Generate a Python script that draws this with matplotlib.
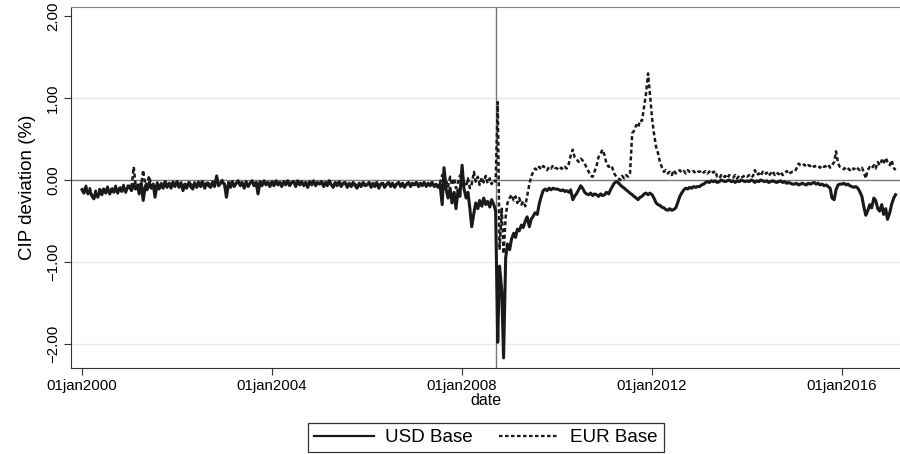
import matplotlib
matplotlib.use("Agg")
import matplotlib.pyplot as plt
import pandas as pd

plt.rcParams['font.family'] = ['Liberation Sans', 'DejaVu Sans']

# semi-monthly readings (1st and 15th of each month), CIP deviation in %
usd_2000 = [-0.12,-0.16,-0.09,-0.17,-0.13,-0.19,-0.23,-0.16,-0.21,-0.13,-0.18,-0.11,-0.16,-0.10,-0.17,-0.11,-0.15,-0.09,-0.16,-0.10,-0.14,-0.08,-0.15,-0.09]
usd_2001 = [-0.09,-0.13,-0.05,-0.11,-0.06,-0.17,-0.04,-0.25,-0.08,-0.12,-0.03,-0.10,-0.05,-0.21,-0.04,-0.11,-0.05,-0.10,-0.02,-0.09,-0.04,-0.10,-0.03,-0.08]
usd_2002 = [-0.02,-0.09,-0.04,-0.13,-0.05,-0.10,-0.03,-0.08,-0.11,-0.04,-0.09,-0.03,-0.08,-0.02,-0.10,-0.04,-0.07,-0.09,-0.03,-0.08,0.05,-0.07,-0.04,-0.02]
usd_2003 = [-0.06,-0.21,-0.03,-0.09,-0.02,-0.08,-0.04,-0.01,-0.07,-0.03,-0.10,-0.02,-0.08,-0.04,-0.01,-0.07,-0.03,-0.17,-0.02,-0.07,-0.01,-0.06,-0.03,-0.08]
usd_2004 = [-0.02,-0.07,-0.01,-0.06,-0.03,-0.08,-0.02,-0.06,-0.01,-0.07,-0.03,-0.02,-0.08,-0.01,-0.06,-0.02,-0.07,-0.03,-0.09,-0.02,-0.06,-0.01,-0.07,-0.03]
usd_2005 = [-0.05,-0.02,-0.08,-0.03,-0.07,-0.01,-0.06,-0.09,-0.03,-0.07,-0.02,-0.08,-0.04,-0.03,-0.09,-0.04,-0.08,-0.03,-0.07,-0.10,-0.04,-0.08,-0.03,-0.07]
usd_2006 = [-0.06,-0.03,-0.09,-0.04,-0.08,-0.03,-0.10,-0.05,-0.04,-0.09,-0.05,-0.03,-0.08,-0.04,-0.09,-0.05,-0.03,-0.08,-0.04,-0.09,-0.05,-0.03,-0.08,-0.04]
usd_2007 = [-0.06,-0.03,-0.08,-0.04,-0.07,-0.03,-0.08,-0.04,-0.07,-0.03,-0.08,-0.06,-0.09,-0.05,-0.30,0.15,-0.12,-0.22,-0.10,-0.28,-0.15,-0.35,-0.12,-0.20]
usd_2008 = [0.18,-0.10,-0.22,-0.15,-0.35,-0.57,-0.40,-0.28,-0.35,-0.25,-0.32,-0.22,-0.30,-0.26,-0.33,-0.24,-0.30,-0.38,-1.98,-1.05,-1.35,-2.17,-0.95,-0.78]
usd_2009 = [-0.85,-0.72,-0.65,-0.70,-0.60,-0.62,-0.55,-0.58,-0.50,-0.45,-0.57,-0.48,-0.44,-0.40,-0.42,-0.30,-0.20,-0.13,-0.11,-0.13,-0.10,-0.12,-0.10,-0.11]
usd_2010 = [-0.11,-0.12,-0.13,-0.12,-0.14,-0.13,-0.15,-0.12,-0.24,-0.20,-0.16,-0.12,-0.07,-0.10,-0.15,-0.17,-0.18,-0.16,-0.19,-0.17,-0.18,-0.20,-0.17,-0.19]
usd_2011 = [-0.18,-0.15,-0.17,-0.12,-0.08,-0.04,-0.02,-0.03,-0.06,-0.08,-0.10,-0.12,-0.14,-0.16,-0.18,-0.20,-0.22,-0.24,-0.21,-0.20,-0.17,-0.16,-0.18,-0.16]
usd_2012 = [-0.18,-0.22,-0.28,-0.30,-0.31,-0.33,-0.34,-0.36,-0.37,-0.35,-0.37,-0.36,-0.34,-0.28,-0.20,-0.16,-0.12,-0.10,-0.11,-0.09,-0.10,-0.08,-0.09,-0.08]
usd_2013 = [-0.08,-0.06,-0.05,-0.03,-0.02,-0.03,-0.01,-0.02,-0.01,-0.03,-0.02,0.00,-0.01,-0.02,-0.01,0.00,-0.02,-0.01,-0.03,-0.01,-0.02,0.00,-0.01,-0.02]
usd_2014 = [-0.01,-0.02,0.00,-0.01,-0.03,-0.01,-0.02,0.00,-0.01,-0.02,-0.01,-0.03,-0.02,-0.01,-0.02,-0.03,-0.02,-0.01,-0.03,-0.02,-0.04,-0.03,-0.04,-0.05]
usd_2015 = [-0.05,-0.04,-0.06,-0.05,-0.04,-0.05,-0.06,-0.04,-0.05,-0.04,-0.03,-0.05,-0.04,-0.06,-0.05,-0.07,-0.06,-0.08,-0.10,-0.22,-0.24,-0.12,-0.06,-0.05]
usd_2016 = [-0.05,-0.04,-0.06,-0.05,-0.07,-0.08,-0.09,-0.08,-0.10,-0.14,-0.20,-0.32,-0.43,-0.38,-0.30,-0.34,-0.22,-0.25,-0.35,-0.38,-0.30,-0.42,-0.35,-0.48]
usd_2017 = [-0.40,-0.30,-0.22,-0.18]

eur_2000 = [-0.10,-0.14,-0.07,-0.15,-0.10,-0.17,-0.20,-0.13,-0.19,-0.11,-0.16,-0.09,-0.14,-0.08,-0.15,-0.09,-0.13,-0.07,-0.14,-0.08,-0.12,-0.06,-0.13,-0.07]
eur_2001 = [-0.07,-0.10,0.16,-0.05,-0.08,-0.06,-0.04,0.12,-0.07,-0.03,0.05,-0.08,-0.05,-0.09,-0.03,-0.07,-0.04,-0.08,-0.02,-0.06,-0.04,-0.07,-0.02,-0.05]
eur_2002 = [-0.02,-0.06,-0.03,-0.08,-0.04,-0.07,-0.02,-0.05,-0.08,-0.03,-0.06,-0.02,-0.05,-0.01,-0.07,-0.03,-0.04,-0.06,-0.02,-0.05,-0.01,-0.04,-0.03,0.00]
eur_2003 = [-0.05,-0.15,-0.03,-0.07,-0.02,-0.06,-0.04,0.00,-0.05,-0.03,-0.07,-0.02,-0.06,-0.04,-0.01,-0.05,-0.03,-0.12,-0.02,-0.05,-0.01,-0.04,-0.03,-0.06]
eur_2004 = [-0.02,-0.05,-0.01,-0.04,-0.03,-0.06,-0.02,-0.04,-0.01,-0.05,-0.03,-0.02,-0.06,-0.01,-0.04,-0.02,-0.05,-0.03,-0.07,-0.02,-0.04,-0.01,-0.05,-0.03]
eur_2005 = [-0.04,-0.02,-0.06,-0.03,-0.05,-0.01,-0.04,-0.07,-0.03,-0.05,-0.02,-0.06,-0.04,-0.03,-0.07,-0.04,-0.06,-0.03,-0.05,-0.08,-0.04,-0.06,-0.03,-0.05]
eur_2006 = [-0.05,-0.03,-0.07,-0.04,-0.06,-0.03,-0.08,-0.05,-0.04,-0.07,-0.05,-0.03,-0.06,-0.04,-0.07,-0.05,-0.03,-0.06,-0.04,-0.07,-0.05,-0.03,-0.06,-0.04]
eur_2007 = [-0.05,-0.03,-0.06,-0.04,-0.05,-0.03,-0.06,-0.04,-0.05,-0.03,-0.06,-0.05,-0.07,-0.04,0.06,-0.10,-0.02,-0.08,0.04,-0.06,0.02,-0.10,-0.03,0.05]
eur_2008 = [0.08,-0.04,-0.08,0.02,-0.10,-0.05,0.10,-0.02,0.04,-0.06,0.03,-0.03,0.05,-0.04,0.02,-0.05,0.00,-0.02,0.95,-0.85,-0.35,-0.90,-0.45,-0.28]
eur_2009 = [-0.22,-0.18,-0.25,-0.20,-0.28,-0.22,-0.30,-0.26,-0.32,-0.20,-0.05,0.04,0.10,0.14,0.12,0.16,0.13,0.17,0.15,0.12,0.16,0.14,0.18,0.15]
eur_2010 = [0.14,0.12,0.15,0.13,0.16,0.14,0.20,0.30,0.37,0.28,0.25,0.22,0.26,0.24,0.20,0.15,0.10,0.05,0.04,0.10,0.18,0.28,0.32,0.37]
eur_2011 = [0.30,0.20,0.16,0.18,0.15,0.08,0.04,0.02,0.00,0.05,0.02,0.06,0.04,0.08,0.57,0.60,0.67,0.64,0.73,0.72,0.90,1.05,1.30,1.05]
eur_2012 = [0.75,0.57,0.40,0.33,0.22,0.16,0.10,0.12,0.08,0.10,0.06,0.12,0.08,0.10,0.12,0.09,0.11,0.08,0.12,0.10,0.09,0.11,0.08,0.10]
eur_2013 = [0.10,0.12,0.09,0.11,0.08,0.10,0.12,0.09,0.11,0.04,0.02,0.06,0.03,0.05,0.02,0.06,0.04,0.03,0.06,0.02,0.05,0.03,0.04,0.06]
eur_2014 = [0.04,0.06,0.03,0.05,0.12,0.06,0.08,0.05,0.10,0.07,0.09,0.05,0.08,0.11,0.06,0.09,0.07,0.10,0.06,0.08,0.11,0.07,0.09,0.10]
eur_2015 = [0.10,0.14,0.20,0.18,0.17,0.19,0.16,0.18,0.17,0.19,0.16,0.18,0.17,0.15,0.18,0.16,0.17,0.19,0.15,0.18,0.22,0.35,0.20,0.16]
eur_2016 = [0.15,0.13,0.16,0.14,0.12,0.15,0.13,0.16,0.14,0.12,0.15,0.10,0.02,0.12,0.16,0.14,0.18,0.14,0.22,0.18,0.24,0.20,0.27,0.22]
eur_2017 = [0.18,0.24,0.15,0.12]

usd = (usd_2000 + usd_2001 + usd_2002 + usd_2003 + usd_2004 + usd_2005 + usd_2006 + usd_2007 + usd_2008
       + usd_2009 + usd_2010 + usd_2011 + usd_2012 + usd_2013 + usd_2014 + usd_2015 + usd_2016 + usd_2017)
eur = (eur_2000 + eur_2001 + eur_2002 + eur_2003 + eur_2004 + eur_2005 + eur_2006 + eur_2007 + eur_2008
       + eur_2009 + eur_2010 + eur_2011 + eur_2012 + eur_2013 + eur_2014 + eur_2015 + eur_2016 + eur_2017)
dates = pd.date_range("2000-01-01", periods=len(usd), freq="SMS")

tick_years = [2000, 2004, 2008, 2012, 2016]
y_ticks = [-2, -1, 0, 1, 2]
grid_vals = [-2, -1, 1]
lehman = pd.Timestamp("2008-09-15")

fig = plt.figure(figsize=(9, 4.54), dpi=100)
ax = fig.add_axes([71/900, 1 - 368/454, 829/900, 361/454])

for g in grid_vals:
    ax.axhline(g, color="#eaeaea", lw=1.0, zorder=0)
ax.axhline(0, color="#777777", lw=1.0, zorder=1)
ax.axvline(lehman, color="#777777", lw=1.0, zorder=1)

ax.plot(dates, usd, color="#1a1a1a", lw=2.2, label="USD Base", zorder=3)
ax.plot(dates, eur, color="#1a1a1a", lw=1.8, dashes=(1.6, 1.1), label="EUR Base", zorder=4)

ax.set_xlim(pd.Timestamp("1999-10-08"), pd.Timestamp("2017-03-21"))
ax.set_ylim(-2.293, 2.11)

ax.set_xticks([pd.Timestamp(f"{y}-01-01") for y in tick_years])
ax.set_xticklabels([f"01jan{y}" for y in tick_years], fontsize=10.8)
ax.set_yticks(y_ticks)
ax.set_yticklabels([f"{v:.2f}".replace("-", "\u2212") for v in y_ticks], fontsize=10.8,
                   rotation=90, va="center")
ax.tick_params(axis="both", direction="out", length=5, width=0.8, color="#333333", pad=3)

ax.spines["right"].set_visible(False)
ax.spines["top"].set_color("#888888")
ax.spines["left"].set_color("#333333")
ax.spines["bottom"].set_color("#333333")

ax.set_xlabel("date", fontsize=11.5, labelpad=0)
ax.set_ylabel("CIP deviation (%)", fontsize=13.5, labelpad=7)

leg = fig.legend(loc="center", bbox_to_anchor=(486/900, 16.5/454), ncol=2, fontsize=13.5,
                 frameon=True, fancybox=False, edgecolor="black", handlelength=3.2,
                 handletextpad=0.6, columnspacing=1.4, borderpad=0.3)
leg.get_frame().set_linewidth(0.9)
for h in leg.get_lines():
    h.set_linewidth(1.6)

fig.savefig("out.png", dpi=100)
